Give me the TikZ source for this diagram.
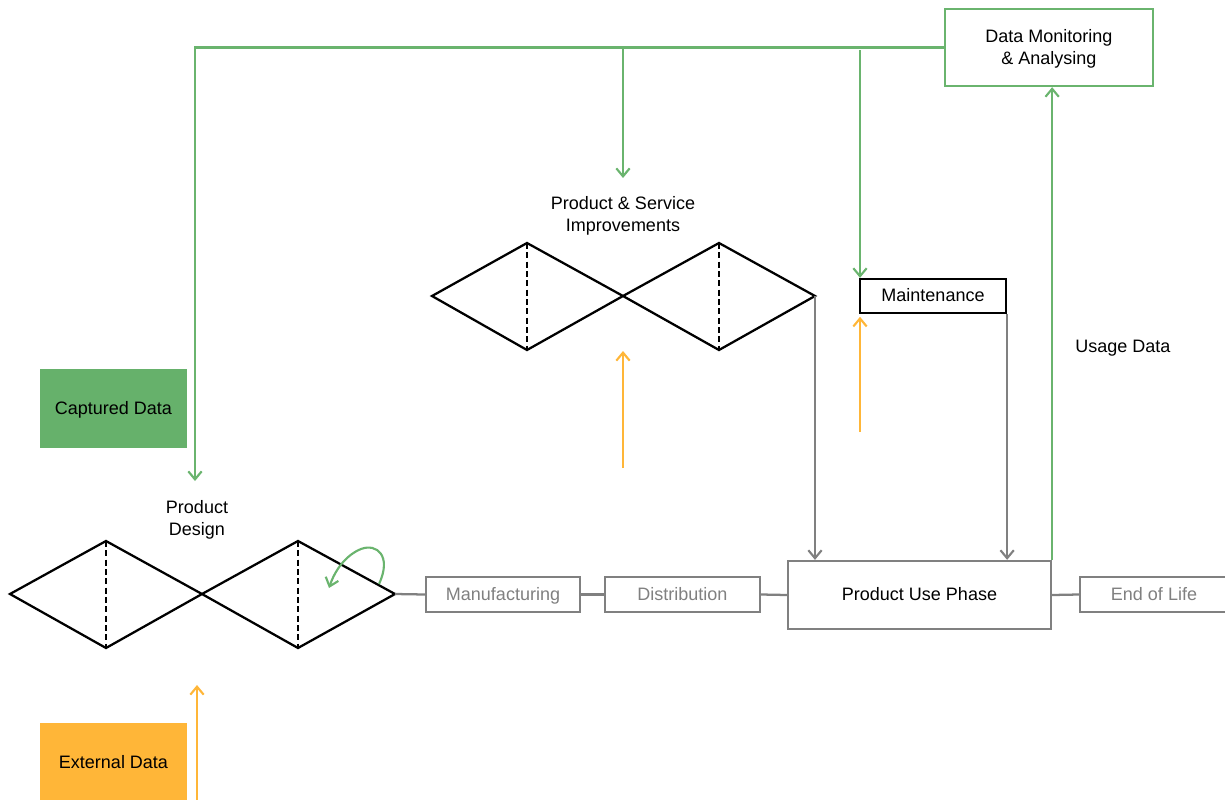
\documentclass[tikz,border=0pt]{standalone}
\usepackage{fontspec}
\setmainfont{Liberation Sans}
\usetikzlibrary{arrows.meta,calc}
\definecolor{gline}{HTML}{6AB46E}
\definecolor{gfill}{HTML}{66B16B}
\definecolor{ofill}{HTML}{FFB638}
\definecolor{oline}{HTML}{FFB638}
\definecolor{grey}{HTML}{808080}
\tikzset{
  txt/.style={font=\fontsize{13.5}{16.5}\selectfont, align=center},
  boxtxt/.style={txt, text depth=1.5pt},
  gbox/.style={draw=gline, line width=1.7pt, fill=white, boxtxt, inner sep=0pt},
  kbox/.style={draw=black, line width=1.7pt, fill=white, boxtxt, inner sep=0pt},
  greybox/.style={draw=grey, line width=1.7pt, fill=white, boxtxt, text=grey, inner sep=0pt},
  filledbox/.style={boxtxt, inner sep=0pt},
  tip/.style={-{Straight Barb[length=6pt,width=10pt,line width=1.6pt]}},
  garrow/.style={draw=gline, line width=1.6pt},
  oarrow/.style={draw=oline, line width=1.6pt, tip},
  greyline/.style={draw=grey, line width=1.7pt},
  dia/.style={draw=black, line width=1.7pt, line join=miter},
  diadash/.style={draw=black, line width=1pt, dash pattern=on 4.5pt off 2.5pt},
}
\begin{document}
\begin{tikzpicture}[x=0.75pt,y=-0.75pt]
\useasboundingbox (0,0) rectangle (1225,800);

% boxes
\node[gbox, minimum width=156pt, minimum height=57.75pt] (dm) at (1049,47.5) {Data Monitoring\\\& Analysing};
\node[kbox, minimum width=109.5pt, minimum height=25.5pt] (mt) at (933,296) {Maintenance};
\node[filledbox, fill=gfill, minimum width=110pt, minimum height=59.25pt] (cd) at (113.5,408.5) {Captured Data};
\node[filledbox, fill=ofill, minimum width=110pt, minimum height=60pt] (ed) at (113.5,763) {External Data};
\node[greybox, minimum width=115.5pt, minimum height=26.25pt] (mf) at (503,594.5) {Manufacturing};
\node[greybox, minimum width=116.25pt, minimum height=26.25pt] (ds) at (682.5,594.5) {Distribution};
\node[greybox, text=black, minimum width=197.25pt, minimum height=51pt] (pup) at (919.5,595) {Product Use Phase};
\node[greybox, minimum width=111pt, minimum height=26.25pt] (eol) at (1154,594.5) {End of Life};

% labels
\node[txt] (psi) at (623,216) {Product \& Service\\Improvements};
\node[txt] (pdl) at (197,520) {Product\\Design};
\node[txt] (ud) at (1123,348) {Usage Data};

% upper diamonds
\coordinate (ua) at (432,296);
\coordinate (ub) at (527,243);
\coordinate (uc) at (623,296);
\coordinate (ud2) at (527,350);
\coordinate (ue) at (719,243);
\coordinate (uf) at (815,296);
\coordinate (ug) at (719,350);
\draw[dia] (ua) -- (ub) -- (uc) -- (ud2) -- cycle;
\draw[dia] (uc) -- (ue) -- (uf) -- (ug) -- cycle;
\draw[diadash] (ub) -- (ud2);
\draw[diadash] (ue) -- (ug);

% lower diamonds
\coordinate (la) at (10,594);
\coordinate (lb) at (106,541);
\coordinate (lc) at (202,594);
\coordinate (ld) at (106,648);
\coordinate (le) at (298,541);
\coordinate (lf) at (395,594);
\coordinate (lg) at (298,648);
\draw[dia] (la) -- (lb) -- (lc) -- (ld) -- cycle;
\draw[dia] (lc) -- (le) -- (lf) -- (lg) -- cycle;
\draw[diadash] (lb) -- (ld);
\draw[diadash] (le) -- (lg);

% grey chain
\draw[greyline] (lf) -- (mf.west);
\draw[greyline] (mf.east) -- (ds.west);
\draw[greyline] (ds.east) -- (pup.west);
\draw[greyline] (pup.east) -- (eol.west);
\draw[greyline, tip] (uf) -- (uf |- pup.north);
\draw[greyline, tip] (mt.south east) -- (mt.south east |- pup.north);

% green feedback
\coordinate (pdtop) at (195,481);
\coordinate (b1) at (623,47);
\coordinate (b1e) at (623,178);
\coordinate (b2) at (860,50);
\draw[garrow, tip] (dm.west) -| (pdtop);
\draw[garrow, tip] (b1) -- (b1e);
\draw[garrow, tip] (b2) -- (b2 |- mt.north);
\draw[garrow, tip] (pup.north east) -- (pup.north east |- dm.south);

% green loop arrow
\coordinate (ls) at (379,584);
\coordinate (lt) at (329,588);
\draw[garrow, tip] (ls) .. controls (392,556) and (377,543) .. (361,549)
   .. controls (346,555) and (335,570) .. (lt);

% orange arrows
\coordinate (o1s) at (623,468);
\coordinate (o1e) at (623,351);
\coordinate (o2s) at (860,432);
\coordinate (o3s) at (197,800);
\coordinate (o3e) at (197,685);
\draw[oarrow] (o1s) -- (o1e);
\draw[oarrow, shorten >=2pt] (o2s) -- (o2s |- mt.south);
\draw[oarrow] (o3s) -- (o3e);
\end{tikzpicture}
\end{document}
